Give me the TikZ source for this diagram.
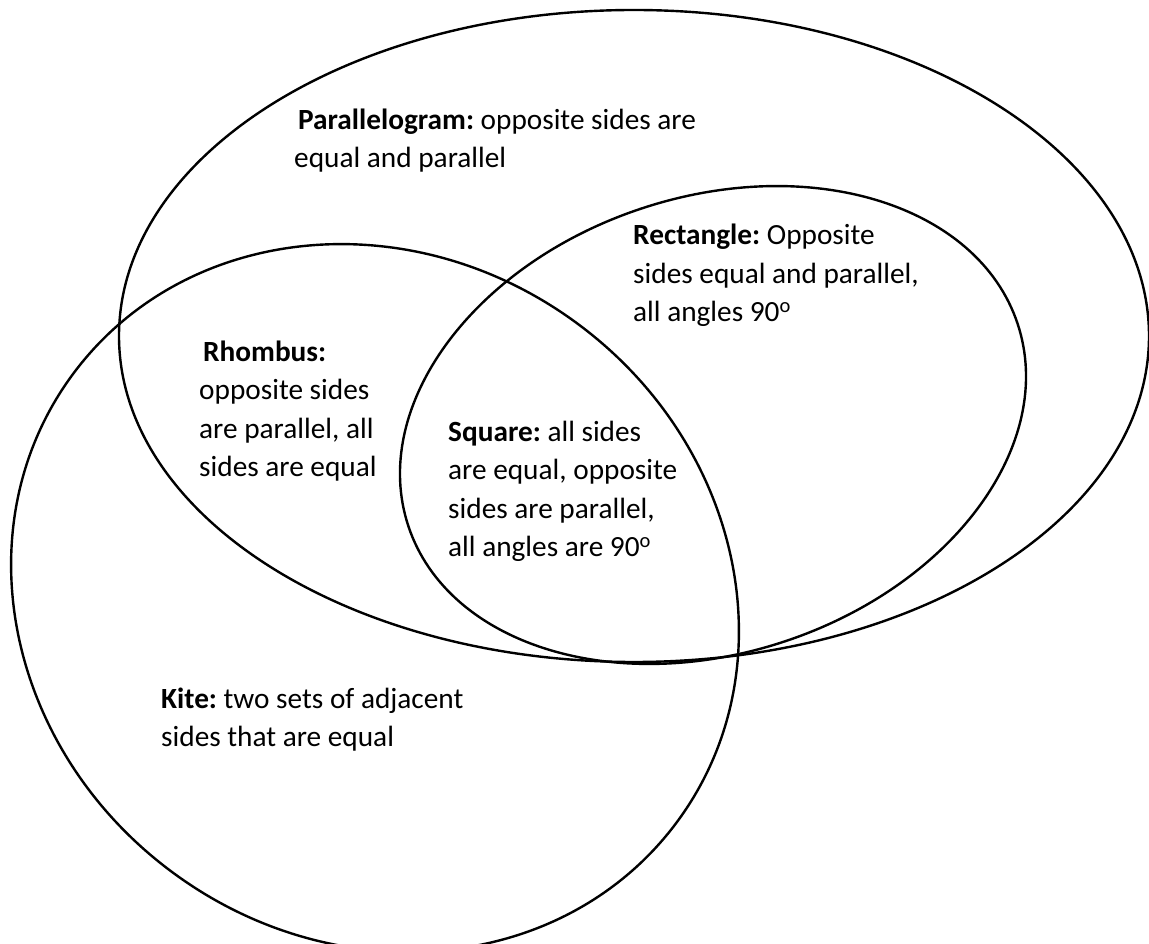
\documentclass[tikz,border=0pt]{standalone}
\usepackage{fontspec}
\setmainfont{Carlito}
\begin{document}
\begin{tikzpicture}[x=1pt,y=1pt,
  venn/.style={draw=black,line width=2.4pt},
  lbl/.style={anchor=base west,align=left,inner sep=0pt,font=\fontsize{29.3}{38.5}\selectfont\frenchspacing}]
\useasboundingbox[fill=white] (0,0) rectangle (1149,943);
% Parallelogram
\draw[venn] (634,607) ellipse [x radius=515, y radius=326];
% Rectangle
\draw[venn,rotate around={18.4:(713,518)}] (713,518) ellipse [x radius=321, y radius=228];
% Kite
\draw[venn,rotate around={-36.7:(375,345)}] (375,345) ellipse [x radius=376, y radius=341];
% labels (anchor = baseline of last line)
\node[lbl] (para) at (294,775) {\hspace{4pt}\textbf{Parallelogram:} opposite sides are\\equal and parallel};
\node[lbl] (rect) at (633,621) {\textbf{Rectangle:} Opposite\\sides equal and parallel,\\all angles 90\textsuperscript{o}};
\node[lbl] (rhom) at (199,466) {\hspace{4pt}\textbf{Rhombus:}\\opposite sides\\are parallel, all\\sides are equal};
\node[lbl] (squa) at (448,386) {\textbf{Square:} all sides\\are equal, opposite\\sides are parallel,\\all angles are 90\textsuperscript{o}};
\node[lbl] (kite) at (161,196) {\textbf{Kite:} two sets of adjacent\\sides that are equal};
\end{tikzpicture}
\end{document}
